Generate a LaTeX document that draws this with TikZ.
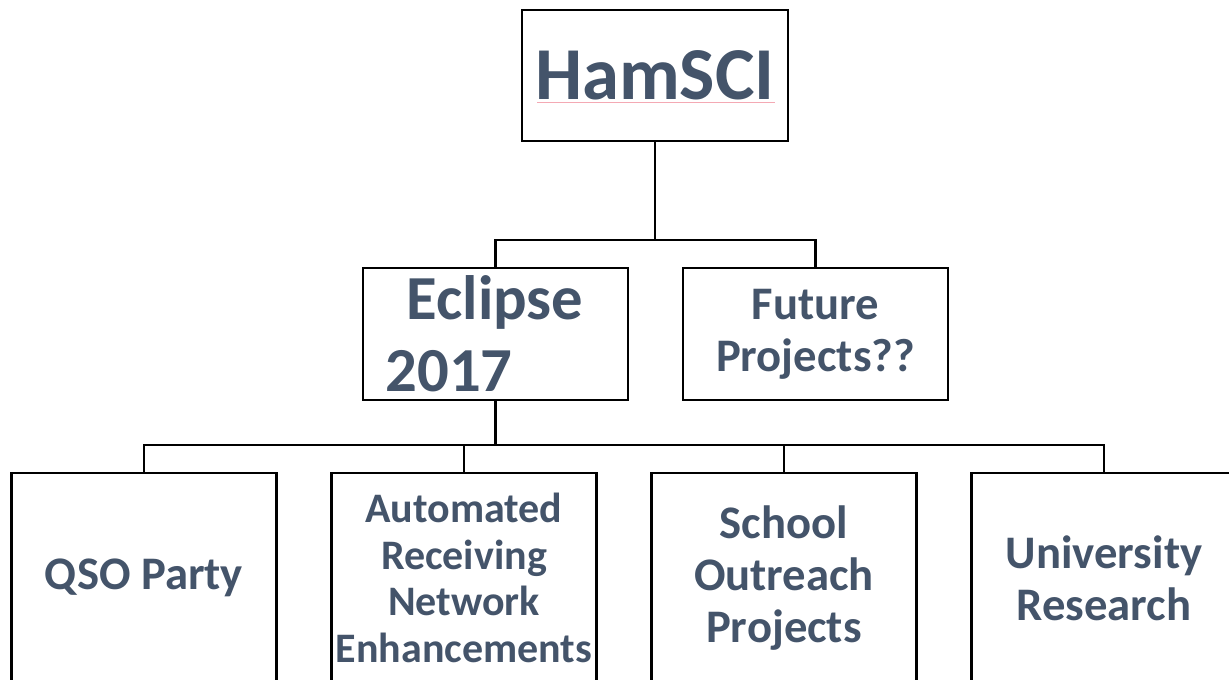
\documentclass[tikz,border=0pt]{standalone}
\usepackage{fontspec}
\setmainfont{Carlito}
\usetikzlibrary{positioning}
\definecolor{slate}{HTML}{44546A}
\definecolor{spellred}{HTML}{F4A9B4}

\begin{document}
\begin{tikzpicture}[node distance=41.25pt, auto]
    \tikzstyle{box} = [rectangle, draw, line width=2.2pt, fill=white, text=slate, align=center, outer sep=0pt, inner sep=0pt]
    \tikzstyle{rootbox} = [box, minimum width=199.5pt, minimum height=98.25pt, font=\bfseries\fontsize{56}{60}\selectfont]
    \tikzstyle{branchbox} = [box, minimum width=198.75pt, minimum height=99pt, font=\bfseries\fontsize{35}{39}\selectfont]
    \tikzstyle{leafbox} = [box, minimum width=198.75pt, minimum height=157.5pt, font=\bfseries\fontsize{35}{39}\selectfont]
    \tikzstyle{link} = [draw, line width=1.8pt]

    \useasboundingbox (0,0) rectangle (921.75pt,-509.25pt);
    \clip (0,0) rectangle (921.75pt,-509.25pt);

    \node [rootbox] (hamsci) at (491.25pt,-56.625pt) {HamSCI};
    \node [branchbox, below=95.25pt of hamsci, xshift=-119.625pt, align=left, text width=164.75pt, inner xsep=17pt, font=\bfseries\fontsize{47}{54}\selectfont] (eclipse) {\hspace*{15.75pt}Eclipse\\2017};
    \node [branchbox, right=of eclipse] (future) {Future\\Projects??};
    \node [leafbox, below=54.75pt of eclipse, xshift=-23.625pt, font=\bfseries\fontsize{31.5}{35}\selectfont] (arn) {Automated\\Receiving\\Network\\Enhancements};
    \node [leafbox, left=of arn] (qso) {QSO Party};
    \node [leafbox, right=of arn] (school) {School\\Outreach\\Projects};
    \node [leafbox, right=of school] (university) {University\\Research};

    % spell-check underline under the title
    \draw [spellred, line width=0.75pt] ([xshift=11.25pt, yshift=-2pt]hamsci.base west) -- ([xshift=-9.75pt, yshift=-2pt]hamsci.base east);

    \path [link] (hamsci.south) -- ++(0,-74.25pt) coordinate (hub) -| (eclipse.north);
    \path [link] (hub) -| (future.north);
    \path [link] (eclipse.south) -- ++(0,-33.75pt) coordinate (bus) -| (qso.north);
    \path [link] (bus) -| (arn.north);
    \path [link] (bus) -| (school.north);
    \path [link] (bus) -| (university.north);
\end{tikzpicture}
\end{document}
